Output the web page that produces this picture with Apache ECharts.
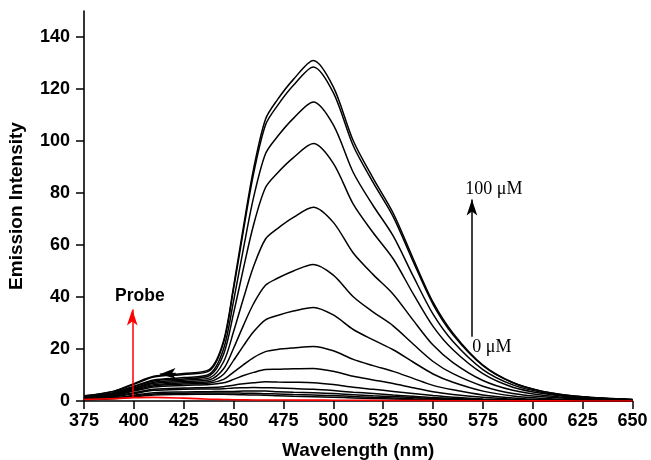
<!DOCTYPE html>
<html>
<head>
<meta charset="utf-8">
<script src="https://cdn.jsdelivr.net/npm/echarts@6/dist/echarts.min.js"></script>
<style>
  html, body { margin: 0; padding: 0; background: #fff; }
  #chart { width: 651px; height: 460px; }
</style>
</head>
<body>
<div id="chart"></div>
<script>
// Emission spectra, wavelength in nm
const wavelengths = [375, 390, 400, 410, 425, 438, 445, 450, 455, 460, 466, 472, 480, 490, 500, 510, 520, 530, 540, 550, 560, 575, 590, 605, 625, 650];

// Titration spectra, highest concentration first (100 µM ... 0 µM)
const c01 = [2.0, 3.8, 6.7, 9.5, 10.6, 12.2, 23.2, 44.1, 67.3, 89.2, 108.4, 115.9, 123.7, 131.0, 120.8, 100.1, 85.6, 72.3, 54.8, 38.0, 26.1, 13.8, 7.1, 3.7, 1.6, 0.6];
const c02 = [1.9, 3.7, 6.4, 9.2, 10.2, 11.7, 22.6, 43.1, 65.9, 87.4, 106.2, 113.6, 121.4, 128.5, 118.6, 98.2, 84.0, 70.9, 53.7, 37.2, 25.5, 13.6, 7.0, 3.7, 1.6, 0.6];
const c03 = [1.7, 3.2, 5.7, 8.1, 9.0, 10.4, 20.1, 38.5, 58.9, 78.2, 95.1, 101.7, 108.7, 115.0, 106.2, 87.9, 75.1, 63.5, 48.1, 33.4, 22.9, 12.1, 6.2, 3.3, 1.4, 0.5];
const c04 = [1.6, 3.1, 5.4, 7.7, 8.5, 9.8, 18.0, 33.8, 51.2, 67.7, 82.1, 87.7, 93.6, 99.0, 91.4, 75.7, 64.7, 54.7, 41.3, 28.7, 19.7, 10.5, 5.3, 2.9, 1.2, 0.4];
const c05 = [1.5, 2.9, 5.0, 7.2, 8.0, 8.9, 15.1, 26.7, 39.6, 51.7, 62.3, 66.3, 70.6, 74.5, 68.7, 56.9, 48.6, 41.1, 31.1, 21.5, 14.8, 7.9, 4.1, 2.2, 0.9, 0.3];
const c06 = [1.4, 2.7, 4.7, 6.8, 7.5, 8.2, 12.4, 20.3, 29.2, 37.4, 44.5, 47.2, 50.0, 52.5, 48.4, 40.1, 34.2, 28.9, 21.9, 15.2, 10.5, 5.7, 2.9, 1.6, 0.7, 0.2];
const c07 = [1.3, 2.5, 4.4, 6.3, 7.0, 7.5, 10.3, 15.6, 21.3, 26.6, 31.2, 32.9, 34.6, 36.0, 33.1, 27.5, 23.5, 19.7, 15.0, 10.4, 7.2, 3.8, 1.9, 1.0, 0.5, 0.2];
const c08 = [1.2, 2.3, 4.1, 5.9, 6.5, 6.9, 8.3, 11.1, 14.0, 16.7, 19.0, 19.8, 20.4, 21.0, 19.3, 16.0, 13.6, 11.4, 8.7, 6.0, 4.3, 2.3, 1.2, 0.6, 0.3, 0.1];
const c09 = [1.1, 2.2, 3.8, 5.4, 6.0, 6.3, 7.0, 8.3, 9.8, 11.0, 12.1, 12.2, 12.4, 12.5, 11.4, 9.5, 8.1, 6.7, 5.1, 3.6, 2.5, 1.4, 0.7, 0.4, 0.2, 0.1];
const c10 = [1.0, 1.8, 3.2, 4.5, 5.0, 5.2, 5.5, 6.1, 6.6, 7.0, 7.4, 7.3, 7.2, 7.0, 6.3, 5.3, 4.5, 3.7, 2.9, 2.1, 1.4, 0.8, 0.4, 0.2, 0.1, 0.05];
const c11 = [0.9, 1.6, 2.8, 4.1, 4.5, 4.6, 4.7, 5.0, 5.1, 5.2, 5.1, 5.0, 4.8, 4.5, 4.0, 3.4, 2.9, 2.3, 1.8, 1.3, 1.0, 0.6, 0.3, 0.15, 0.1, 0.05];
const c12 = [0.7, 1.3, 2.2, 3.2, 3.5, 3.6, 3.7, 3.7, 3.8, 3.8, 3.8, 3.6, 3.4, 3.2, 2.9, 2.4, 2.0, 1.7, 1.3, 1.0, 0.7, 0.4, 0.2, 0.1, 0.05, 0.02];
const c13 = [0.6, 1.1, 1.9, 2.7, 3.0, 3.1, 3.1, 3.1, 3.0, 3.0, 2.8, 2.7, 2.5, 2.3, 2.1, 1.7, 1.4, 1.2, 0.9, 0.7, 0.5, 0.3, 0.15, 0.1, 0.04, 0.02];
const c14 = [0.5, 0.9, 1.6, 2.3, 2.5, 2.6, 2.6, 2.5, 2.4, 2.3, 2.2, 2.0, 1.8, 1.6, 1.4, 1.2, 1.0, 0.8, 0.6, 0.4, 0.3, 0.2, 0.1, 0.05, 0.03, 0.01];

// Free probe alone
const probe = [0.6, 0.9, 1.3, 1.4, 1.1, 0.7, 0.6, 0.5, 0.45, 0.4, 0.4, 0.4, 0.35, 0.35, 0.3, 0.3, 0.25, 0.2, 0.2, 0.15, 0.1, 0.1, 0.05, 0.05, 0.02, 0];

const titration = [c01, c02, c03, c04, c05, c06, c07, c08, c09, c10, c11, c12, c13, c14];

// Axis ticks
const xTicks = [375, 400, 425, 450, 475, 500, 525, 550, 575, 600, 625, 650];
const yTicks = [0, 20, 40, 60, 80, 100, 120, 140];

// Annotations (data coordinates)
const concArrow = [[569.5, 24.7], [569.5, 77.5]];
const concTop = { text: '100 \u03bcM', at: [580.5, 81.5] };
const concBottom = { text: '0 \u03bcM', at: [579.5, 20.6] };
const probeArrow = [[399.2, 1.2], [399.2, 35.2]];
const probeLabel = { text: 'Probe', at: [403, 40.3] };
const curveArrow = [[421, 10.6], [413, 10.3]];

const pair = (ys) => wavelengths.map((x, i) => [x, ys[i]]);

const lineBase = {
  type: 'line',
  smooth: 0.3,
  showSymbol: false,
  symbol: 'none',
  silent: true,
  animation: false,
  z: 3
};

const series = titration.map((ys) => Object.assign({}, lineBase, {
  data: pair(ys),
  lineStyle: { color: '#000', width: 1.5 }
}));

series.push(Object.assign({}, lineBase, {
  data: pair(probe),
  lineStyle: { color: '#ff0000', width: 1.6 },
  z: 4
}));

// Annotation carrier
series.push({
  type: 'line',
  data: [],
  silent: true,
  animation: false,
  markLine: {
    silent: true,
    animation: false,
    symbol: ['none', 'arrow'],
    label: { show: false },
    emphasis: { disabled: true },
    data: [
      [{ coord: concArrow[0], lineStyle: { color: '#000', width: 1.5, type: 'solid' }, symbolSize: 8 }, { coord: concArrow[1] }],
      [{ coord: probeArrow[0], lineStyle: { color: '#ff0000', width: 1.5, type: 'solid' }, symbolSize: 8 }, { coord: probeArrow[1] }],
      [{ coord: curveArrow[0], lineStyle: { color: '#000', width: 1.2, type: 'solid' }, symbolSize: 7 }, { coord: curveArrow[1] }]
    ]
  },
  markPoint: {
    silent: true,
    animation: false,
    symbol: 'circle',
    symbolSize: 0,
    data: [
      { coord: concTop.at, label: { show: true, formatter: concTop.text, fontFamily: 'Liberation Serif', fontSize: 18, color: '#000' } },
      { coord: concBottom.at, label: { show: true, formatter: concBottom.text, fontFamily: 'Liberation Serif', fontSize: 18, color: '#000' } },
      { coord: probeLabel.at, label: { show: true, formatter: probeLabel.text, fontFamily: 'Liberation Sans', fontWeight: 'bold', fontSize: 17.5, color: '#000' } }
    ]
  }
});

const axisFont = { fontFamily: 'Liberation Sans', fontWeight: 'bold', fontSize: 18, color: '#000' };

const chart = echarts.init(document.getElementById('chart'), null, { renderer: 'canvas' });
chart.setOption({
  backgroundColor: '#fff',
  animation: false,
  grid: { left: 84, right: 18.5, top: 11, bottom: 59, containLabel: false, outerBoundsMode: 'none' },
  xAxis: {
    type: 'value',
    min: 375,
    max: 650,
    interval: 25,
    name: 'Wavelength (nm)',
    nameLocation: 'middle',
    nameGap: 40,
    nameTextStyle: Object.assign({}, axisFont, { fontSize: 19 }),
    axisLine: { show: true, onZero: false, lineStyle: { color: '#000', width: 1.6 } },
    axisTick: { show: true, inside: false, length: 8, lineStyle: { color: '#000', width: 1.5 }, customValues: xTicks },
    axisLabel: Object.assign({ margin: 11, customValues: xTicks }, axisFont),
    splitLine: { show: false }
  },
  yAxis: {
    type: 'value',
    min: 0,
    max: 150,
    interval: 20,
    name: 'Emission Intensity',
    nameLocation: 'middle',
    nameGap: 57.5,
    nameRotate: 90,
    nameTextStyle: Object.assign({}, axisFont, { fontSize: 19 }),
    axisLine: { show: true, onZero: false, lineStyle: { color: '#000', width: 1.6 } },
    axisTick: { show: true, inside: false, length: 8, lineStyle: { color: '#000', width: 1.5 }, customValues: yTicks },
    axisLabel: Object.assign({ margin: 14, customValues: yTicks }, axisFont),
    splitLine: { show: false }
  },
  series: series
});
</script>
</body>
</html>
